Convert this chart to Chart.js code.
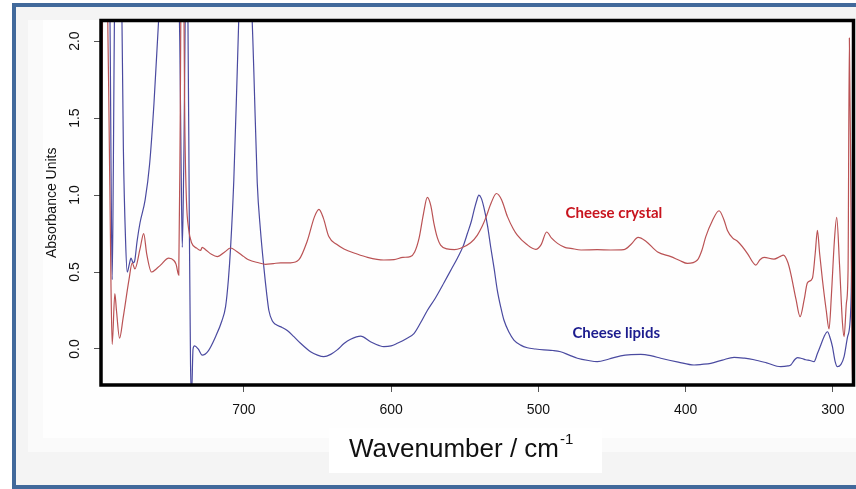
<!DOCTYPE html>
<html>
<head>
<meta charset="utf-8">
<title>Cheese crystal and lipids spectra</title>
<script src="https://cdn.jsdelivr.net/npm/chart.js@4.4.0/dist/chart.umd.min.js"></script>
<style>
    html, body { margin: 0; padding: 0; background: #fff; }
    #spectraChart { display: block; }
</style>
</head>
<body>
<canvas id="spectraChart" width="856" height="489"></canvas>
<script>
// spectrum of the cheese crystal (red trace)
const crystalWavenumber = [
    797, 795.8, 793.5, 791.8, 790.2, 789.4, 787.6, 786.5, 784.4, 782, 778, 775.8, 774, 770.5, 768, 766,
    762.7, 759.5, 756.6, 751, 747.5, 746, 744.2, 743.2, 742.4, 741.2, 740, 739, 737.5, 735.5, 732,
    729.4, 728.3, 726, 722, 718, 713, 709, 705, 700, 696.8, 690, 685.3, 680, 675, 668.3, 662.6, 657,
    652, 649, 646, 642.3, 637, 632, 624, 616, 605, 598, 592, 587, 584, 581, 578, 575.4, 573, 571,
    568.5, 566.4, 562, 557, 552.8, 546, 541.4, 538, 535.8, 532, 528.5, 525, 521, 517, 514.3, 508,
    501.8, 498, 494.4, 491, 487, 482, 478, 471, 460, 451, 442, 437, 432.3, 427, 419, 410, 404, 398.8,
    392, 389, 386.3, 382, 377.3, 374, 371.6, 368, 364.8, 358, 354.5, 352.4, 349.5, 346.7, 340, 336,
    333.6, 330.5, 328.6, 325, 322.3, 319.5, 317.3, 313.9, 312, 310.5, 309, 307.1, 304.5, 302.6, 301,
    299, 297.4, 295.5, 293.5, 292.4, 290.8, 289.7, 288.8, 287.8, 287, 286.3
];
const crystalAbsorbance = [
    0.38, 2.4, 2.6, 1.7, 0.4, 0.03, 0.36, 0.25, 0.07, 0.2, 0.45, 0.56, 0.52, 0.65, 0.75, 0.62,
    0.50, 0.52, 0.545, 0.59, 0.575, 0.55, 0.48, 1.5, 2.6, 2.6, 1.4, 0.97, 0.78, 0.69, 0.655,
    0.64, 0.66, 0.645, 0.615, 0.60, 0.63, 0.656, 0.635, 0.60, 0.58, 0.56, 0.55, 0.555, 0.56, 0.56, 0.58, 0.70,
    0.86, 0.907, 0.85, 0.73, 0.68, 0.65, 0.62, 0.595, 0.578, 0.58, 0.595, 0.60, 0.63, 0.72, 0.88, 0.985, 0.93, 0.82,
    0.72, 0.675, 0.65, 0.645, 0.654, 0.69, 0.74, 0.80, 0.85, 0.95, 1.01, 0.97, 0.86, 0.78, 0.74, 0.68,
    0.647, 0.68, 0.76, 0.72, 0.686, 0.66, 0.654, 0.643, 0.645, 0.643, 0.645, 0.68, 0.725, 0.70, 0.63, 0.60, 0.575, 0.556,
    0.578, 0.64, 0.73, 0.83, 0.898, 0.84, 0.77, 0.72, 0.70, 0.62, 0.565, 0.545, 0.58, 0.595, 0.584, 0.60,
    0.61, 0.56, 0.49, 0.32, 0.21, 0.32, 0.43, 0.46, 0.62, 0.77, 0.62, 0.45, 0.25, 0.13, 0.35,
    0.70, 0.855, 0.55, 0.17, 0.08, 0.3, 0.51, 2.02, 1.0, 0.0, -0.3
];

// spectrum of the cheese lipids (blue trace)
const lipidsWavenumber = [
    797, 791.5, 790.2, 789.4, 788.6, 787.5, 785, 783.2, 781.8, 780.3, 779.2, 777.8, 776.6, 775.2, 774.2,
    772.5, 770.5, 767, 764, 761, 757.5, 752, 747, 743.5, 742.6, 741.8, 740.8, 739.2, 738, 737, 736.2,
    735.5, 734.5, 733.5, 731, 728.3, 724, 719.2, 715, 712.4, 710.5, 709, 706.8, 704.5, 702, 699.5, 696,
    693.2, 690.9, 688.7, 686.4, 684.5, 683, 680.5, 678.5, 674, 670.5, 666, 661.5, 654.7, 650, 645.7, 641,
    636.6, 632, 627.5, 620.7, 614, 608, 604.9, 600, 595.8, 590, 584.5, 580, 575.4, 570, 564.1, 559, 555,
    551, 548.2, 545.5, 543.7, 542, 540.4, 538.8, 537, 534.5, 532.4, 530, 527.9, 525.5, 523.4, 520, 516.6,
    512, 507.5, 502, 496.2, 490, 484.9, 479, 473.5, 466, 460, 452, 444.1, 437, 430.5, 423, 416.9, 405,
    394.3, 389, 382.9, 375, 367.1, 360, 353.5, 345, 335.4, 330.5, 328.6, 326, 324, 321, 318.4, 315.5,
    312.8, 310.5, 308.2, 306, 303.7, 301.8, 300.3, 298.5, 296.9, 294.5, 292.4, 290, 287.8, 286.8, 286
];
const lipidsAbsorbance = [
    2.8, 2.8, 1.2, 0.45, 1.2, 2.6, 3.0, 2.5, 1.3, 0.7, 0.50, 0.55, 0.59, 0.56, 0.57,
    0.70, 0.82, 0.97, 1.2, 1.6, 2.2, 3.0, 3.0, 2.0, 1.2, 0.66, 1.2, 2.5, 2.2, 0.8, -0.1,
    -0.3, 0.0, 0.02, 0.0, -0.04, -0.01, 0.08, 0.18, 0.275, 0.45, 0.66, 1.1, 1.8, 2.6, 3.2, 2.6,
    1.8, 1.08, 0.77, 0.53, 0.36, 0.25, 0.18, 0.16, 0.14, 0.12, 0.08, 0.037, -0.018, -0.04, -0.05, -0.035,
    -0.006, 0.035, 0.063, 0.084, 0.047, 0.022, 0.015, 0.02, 0.037, 0.065, 0.10, 0.17, 0.25, 0.33, 0.43, 0.52, 0.59,
    0.67, 0.75, 0.83, 0.90, 0.96, 1.0, 0.98, 0.92, 0.80, 0.664, 0.52, 0.383, 0.27, 0.188, 0.11, 0.058,
    0.025, 0.008, 0.0, -0.006, -0.01, -0.018, -0.04, -0.06, -0.075, -0.082, -0.065, -0.045, -0.037, -0.035, -0.045, -0.06, -0.085,
    -0.104, -0.10, -0.093, -0.072, -0.054, -0.06, -0.07, -0.09, -0.115, -0.11, -0.104, -0.07, -0.056, -0.062, -0.07, -0.075,
    -0.082, -0.03, 0.026, 0.08, 0.112, 0.07, 0.015, -0.08, -0.115, -0.1, -0.05, 0.08, 0.275, 1.0, 2.6
];

const seriesNames = ['Cheese crystal', 'Cheese lipids'];
const xTickValues = [700, 600, 500, 400, 300];
const yTickValues = [0, 0.5, 1, 1.5, 2];

function toPoints(xs, ys) {
    return xs.map((x, i) => ({ x: x, y: ys[i] }));
}

// panel background, blue frame and the white box behind the x title
const backdrop = {
    id: 'backdrop',
    beforeDraw(chart) {
        const c = chart.ctx;
        c.save();
        c.fillStyle = '#ffffff';
        c.fillRect(0, 0, chart.width, chart.height);
        c.fillStyle = '#f4f4f4';
        c.fillRect(14, 5, chart.width - 14, chart.height - 7);
        c.fillStyle = '#fafafa';
        c.fillRect(28, 20, chart.width - 28, 432);
        c.fillStyle = '#fefefe';
        c.fillRect(43, 20, chart.width - 43, 418);
        c.fillStyle = '#ffffff';
        c.fillRect(329, 428, 273, 45);
        c.strokeStyle = '#41699b';
        c.lineWidth = 4;
        c.strokeRect(14, 5, chart.width + 10, chart.height - 7);
        c.restore();
    },
    afterDatasetsDraw(chart) {
        const a = chart.chartArea;
        const c = chart.ctx;
        c.save();
        c.strokeStyle = '#000';
        c.lineWidth = 3.5;
        c.strokeRect(a.left, a.top, a.right - a.left, a.bottom - a.top);
        c.restore();
    },
    afterDraw(chart) {
        const c = chart.ctx;
        const xs = chart.scales.x;
        const ys = chart.scales.y;
        c.save();
        c.textBaseline = 'middle';
        c.textAlign = 'left';
        c.font = 'bold 15px Lato';
        c.fillStyle = '#c8141e';
        c.fillText(seriesNames[0], xs.getPixelForValue(481.5), ys.getPixelForValue(0.883));
        c.fillStyle = '#1c1c8e';
        c.fillText(seriesNames[1], xs.getPixelForValue(476.9), ys.getPixelForValue(0.106));

        // x axis title with the superscript
        c.textBaseline = 'alphabetic';
        c.fillStyle = '#111';
        c.font = '26px "Liberation Sans"';
        const main = 'Wavenumber / cm';
        c.fillText(main, 349, 456.5);
        const w = c.measureText(main).width;
        c.font = '15px "Liberation Sans"';
        c.fillText('-1', 349 + w + 1, 444);
        c.restore();
    }
};

const ctx = document.getElementById('spectraChart').getContext('2d');
const spectraChart = new Chart(ctx, {
    type: 'line',
    data: {
        datasets: [{
            label: seriesNames[0],
            data: toPoints(crystalWavenumber, crystalAbsorbance),
            borderColor: 'rgb(186, 82, 84)',
            borderWidth: 1.2,
            pointRadius: 0,
            cubicInterpolationMode: 'monotone',
            fill: false
        }, {
            label: seriesNames[1],
            data: toPoints(lipidsWavenumber, lipidsAbsorbance),
            borderColor: 'rgb(74, 74, 160)',
            borderWidth: 1.2,
            pointRadius: 0,
            cubicInterpolationMode: 'monotone',
            fill: false
        }]
    },
    options: {
        responsive: false,
        animation: false,
        devicePixelRatio: 1,
        layout: {
            padding: { left: 43, top: 20.5, right: 2.5, bottom: 64 }
        },
        plugins: {
            legend: { display: false },
            tooltip: { enabled: false }
        },
        scales: {
            x: {
                type: 'linear',
                reverse: true,
                min: 286,
                max: 797,
                afterBuildTicks: function(scale) {
                    scale.ticks = xTickValues.map(v => ({ value: v }));
                },
                afterFit: function(scale) {
                    scale.height = 40;
                },
                border: { display: false },
                grid: {
                    drawOnChartArea: false,
                    drawTicks: true,
                    tickLength: 7,
                    color: '#555',
                    lineWidth: 1
                },
                ticks: {
                    padding: 10,
                    color: '#111',
                    minRotation: 0,
                    maxRotation: 0,
                    font: { family: 'Liberation Sans', size: 14 }
                }
            },
            y: {
                type: 'linear',
                min: -0.234,
                max: 2.134,
                afterBuildTicks: function(scale) {
                    scale.ticks = yTickValues.map(v => ({ value: v }));
                },
                afterFit: function(scale) {
                    scale.width = 58;
                },
                border: { display: false },
                grid: {
                    drawOnChartArea: false,
                    drawTicks: true,
                    tickLength: 7,
                    color: '#555',
                    lineWidth: 1
                },
                ticks: {
                    minRotation: 90,
                    maxRotation: 90,
                    crossAlign: 'center',
                    padding: 9,
                    color: '#111',
                    font: { family: 'Liberation Sans', size: 14 },
                    callback: function(value) {
                        return value.toFixed(1);
                    }
                },
                title: {
                    display: true,
                    text: 'Absorbance Units',
                    color: '#111',
                    font: { family: 'Liberation Sans', size: 14 },
                    padding: { top: 1, bottom: 0 }
                }
            }
        }
    },
    plugins: [backdrop]
});
</script>
</body>
</html>
